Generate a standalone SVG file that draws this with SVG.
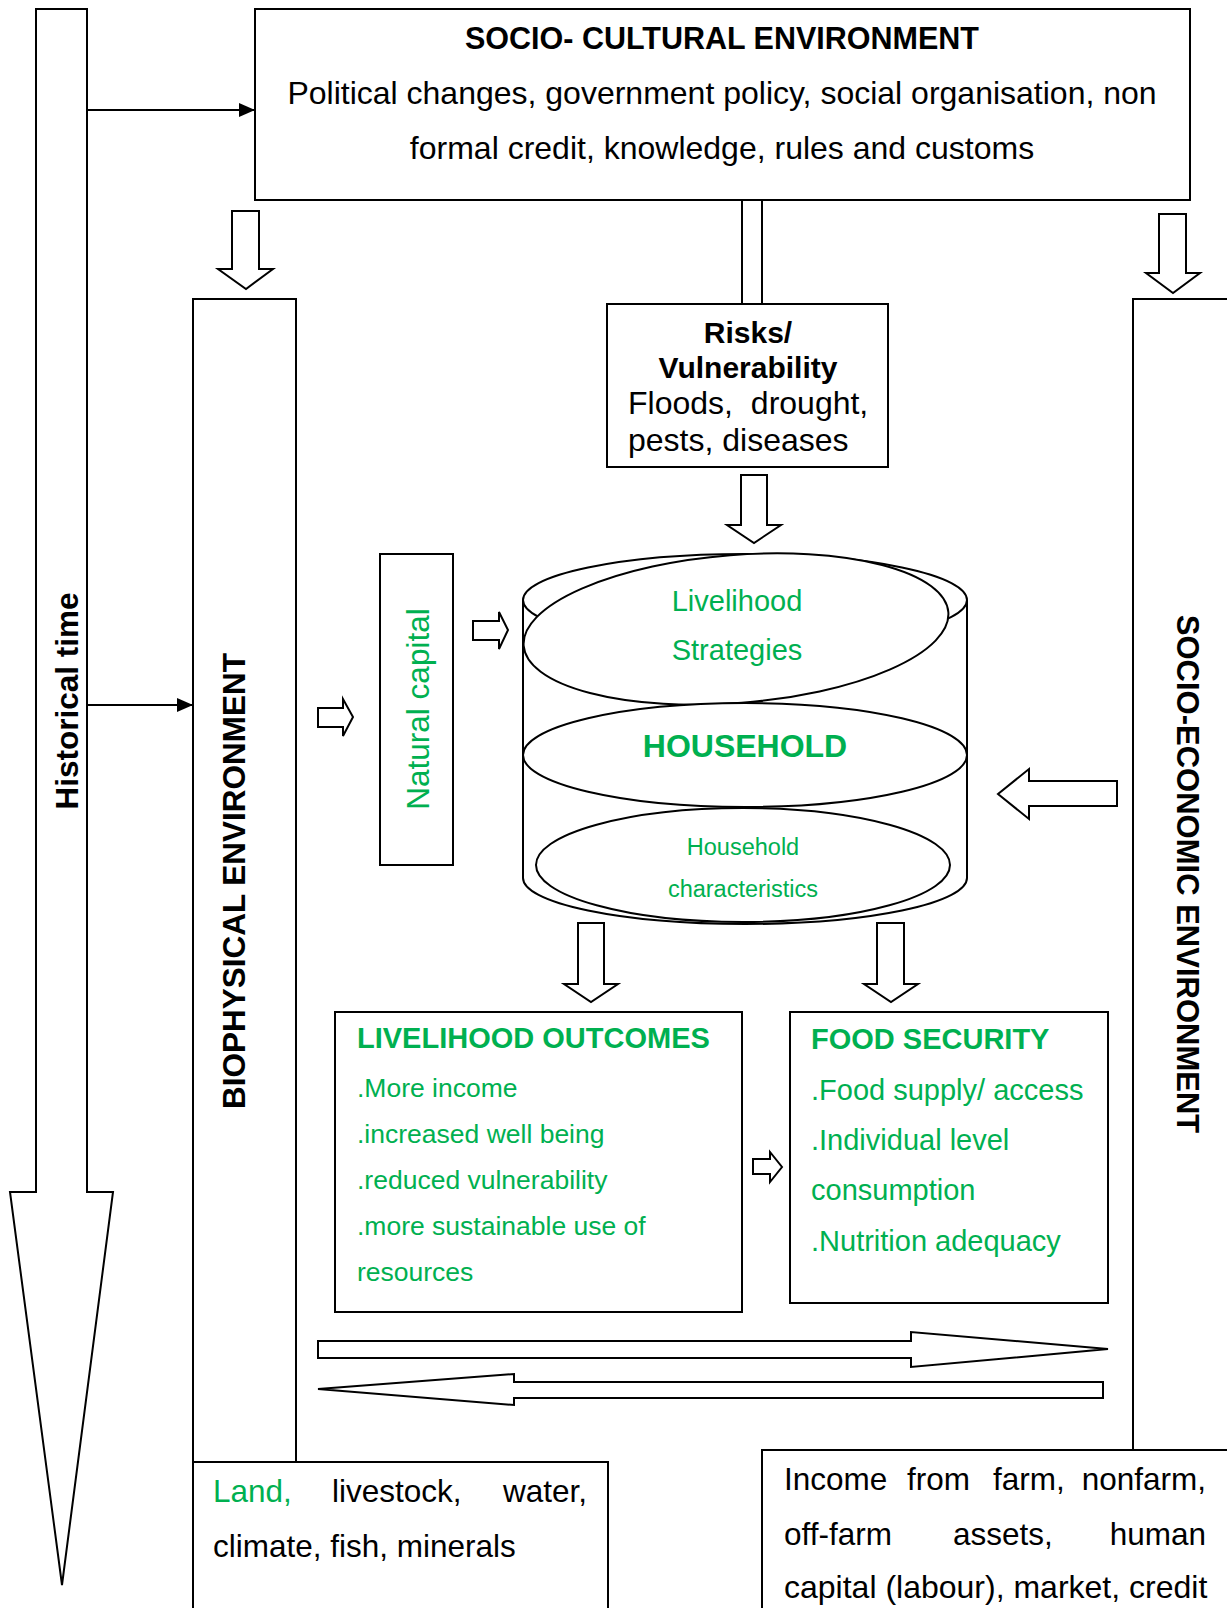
<svg xmlns="http://www.w3.org/2000/svg" width="1227" height="1608" viewBox="0 0 1227 1608">
<style>
  .ln{fill:none;stroke:#000;stroke-width:2}
  .box{fill:#fff;stroke:#000;stroke-width:2}
  .arr{fill:#fff;stroke:#000;stroke-width:2;stroke-linejoin:miter}
  text{font-family:"Liberation Sans",Arial,sans-serif;fill:#000}
  .b{font-weight:bold}
  .g{fill:#00B050}
</style>
<defs>
  <marker id="ah" markerUnits="userSpaceOnUse" markerWidth="16" markerHeight="14" refX="16" refY="7" orient="auto">
    <path d="M0,0 L16,7 L0,14 z" fill="#000"/>
  </marker>
</defs>
<rect width="1227" height="1608" fill="#fff"/>

<g id="historical-time">
  <polygon class="arr" points="36,9 87,9 87,1192 113,1192 62,1585 10,1192 36,1192"/>
  <text class="b" font-size="31.5" text-anchor="middle" transform="translate(78,701) rotate(-90)">Historical time</text>
</g>

<g id="socio-cultural">
  <rect class="box" x="255" y="9" width="935" height="191"/>
  <text class="b" x="722" y="49" font-size="30.5" text-anchor="middle">SOCIO- CULTURAL ENVIRONMENT</text>
  <text x="722" y="104" font-size="32" text-anchor="middle">Political changes, government policy, social organisation, non</text>
  <text x="722" y="159" font-size="32" text-anchor="middle">formal credit, knowledge, rules and customs</text>
</g>

<g id="biophysical">
  <path class="ln" d="M193,1610 V299 H296 V1462"/>
  <text class="b" font-size="31.5" text-anchor="middle" transform="translate(245,881) rotate(-90)">BIOPHYSICAL ENVIRONMENT</text>
</g>

<g id="biophysical-resources">
  <path class="ln" d="M193,1462 H608 V1610"/>
  <text y="1502" font-size="31.5"><tspan class="g" x="213">Land,</tspan><tspan x="332">livestock,</tspan><tspan x="587" text-anchor="end">water,</tspan></text>
  <text x="213" y="1557" font-size="31.5">climate, fish, minerals</text>
</g>

<g id="socio-economic">
  <path class="ln" d="M1230,299 H1133 V1450"/>
  <text class="b" font-size="31" text-anchor="middle" transform="translate(1177,874) rotate(90)">SOCIO-ECONOMIC ENVIRONMENT</text>
</g>

<g id="socio-economic-resources">
  <path class="ln" d="M762,1610 V1450 H1230"/>
  <text y="1490" font-size="31.5"><tspan x="784">Income</tspan><tspan x="907">from</tspan><tspan x="993">farm,</tspan><tspan x="1206" text-anchor="end">nonfarm,</tspan></text>
  <text y="1545" font-size="31.5"><tspan x="784">off-farm</tspan><tspan x="953">assets,</tspan><tspan x="1206" text-anchor="end">human</tspan></text>
  <text x="784" y="1598" font-size="32">capital (labour), market, credit</text>
</g>

<g id="risks">
  <rect class="box" x="607" y="304" width="281" height="163"/>
  <text class="b" x="748" y="343" font-size="30" text-anchor="middle">Risks/</text>
  <text class="b" x="748" y="378" font-size="30" text-anchor="middle">Vulnerability</text>
  <text x="628" y="414" font-size="32" word-spacing="9">Floods, drought,</text>
  <text x="628" y="451" font-size="32">pests, diseases</text>
</g>

<g id="natural-capital">
  <rect class="box" x="380" y="554" width="73" height="311"/>
  <text class="g" font-size="31.5" text-anchor="middle" transform="translate(429,709) rotate(-90)">Natural capital</text>
</g>

<g id="household">
  <path class="box" d="M523,600 V878 A222,46 0 0 0 967,878 V600"/>
  <ellipse class="box" cx="745" cy="600" rx="222" ry="46"/>
  <ellipse class="box" cx="736" cy="629" rx="213" ry="74" transform="rotate(-4.5 736 629)"/>
  <ellipse class="box" cx="745" cy="755" rx="222" ry="52"/>
  <ellipse class="box" cx="743" cy="865" rx="207" ry="57"/>
  <text class="g" x="737" y="611" font-size="29" text-anchor="middle">Livelihood</text>
  <text class="g" x="737" y="660" font-size="29" text-anchor="middle">Strategies</text>
  <text class="g b" x="745" y="757" font-size="32" text-anchor="middle">HOUSEHOLD</text>
  <text class="g" x="743" y="855" font-size="23.5" text-anchor="middle">Household</text>
  <text class="g" x="743" y="897" font-size="23.5" text-anchor="middle">characteristics</text>
</g>

<g id="livelihood-outcomes">
  <rect class="box" x="335" y="1012" width="407" height="300"/>
  <text class="g b" x="357" y="1048" font-size="29">LIVELIHOOD OUTCOMES</text>
  <text class="g" x="357" y="1097" font-size="26.5">.More income</text>
  <text class="g" x="357" y="1143" font-size="26.5">.increased well being</text>
  <text class="g" x="357" y="1189" font-size="26.5">.reduced vulnerability</text>
  <text class="g" x="357" y="1235" font-size="26.5">.more sustainable use of</text>
  <text class="g" x="357" y="1281" font-size="26.5">resources</text>
</g>

<g id="food-security">
  <rect class="box" x="790" y="1012" width="318" height="291"/>
  <text class="g b" x="811" y="1049" font-size="29">FOOD SECURITY</text>
  <text class="g" x="811" y="1100" font-size="29">.Food supply/ access</text>
  <text class="g" x="811" y="1150" font-size="29">.Individual level</text>
  <text class="g" x="811" y="1200" font-size="29">consumption</text>
  <text class="g" x="811" y="1251" font-size="29">.Nutrition adequacy</text>
</g>

<g id="connectors">
  <line class="ln" x1="87" y1="110" x2="255" y2="110" marker-end="url(#ah)"/>
  <line class="ln" x1="87" y1="705" x2="193" y2="705" marker-end="url(#ah)"/>
  <line class="ln" x1="742" y1="201" x2="742" y2="304"/>
  <line class="ln" x1="762" y1="201" x2="762" y2="304"/>
  <polygon class="arr" points="232,211 259,211 259,269 273,269 246,289 218,269 232,269"/>
  <polygon class="arr" points="1159,214 1186,214 1186,273 1200,273 1173,293 1146,273 1159,273"/>
  <polygon class="arr" points="741,475 767,475 767,525 781,525 754,543 727,525 741,525"/>
  <polygon class="arr" points="318,708 343,708 343,699 353,717 343,736 343,727 318,727"/>
  <polygon class="arr" points="473,621 499,621 499,612 508,630 499,649 499,640 473,640"/>
  <polygon class="arr" points="1117,781 1029,781 1029,769 998,794 1029,819 1029,806 1117,806"/>
  <polygon class="arr" points="578,923 604,923 604,984 618,984 591,1002 564,984 578,984"/>
  <polygon class="arr" points="877,923 904,923 904,984 918,984 891,1002 864,984 877,984"/>
  <polygon class="arr" points="753,1159 770,1159 770,1152 782,1167 770,1182 770,1174 753,1174"/>
  <polygon class="arr" points="318,1341 911,1341 911,1332 1108,1349 911,1367 911,1358 318,1358"/>
  <polygon class="arr" points="1103,1382 514,1382 514,1374 318,1389 514,1405 514,1398 1103,1398"/>
</g>
</svg>
